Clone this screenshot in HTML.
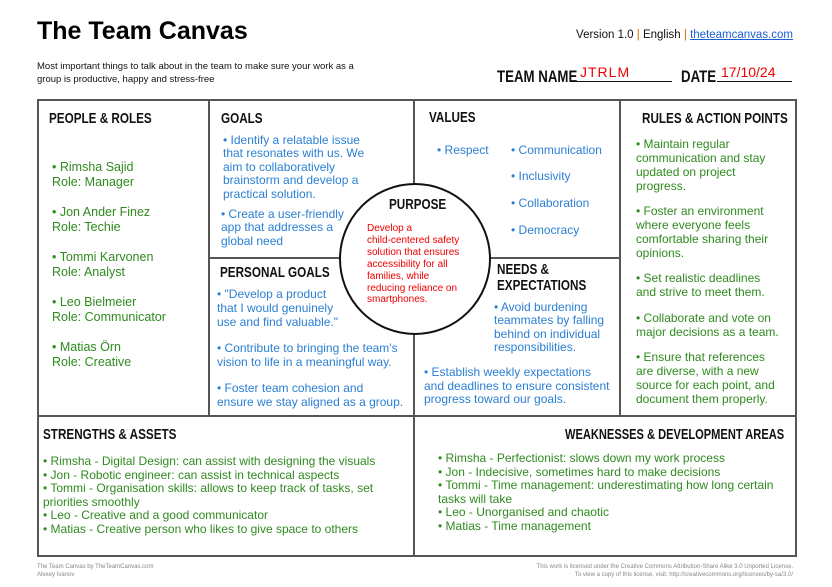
<!DOCTYPE html>
<html><head><meta charset="utf-8"><style>
*{margin:0;padding:0;box-sizing:border-box}
body{width:832px;height:587px;background:#fff;position:relative;overflow:hidden;font-family:"Liberation Sans",sans-serif}
.a{position:absolute;white-space:nowrap}
.h{position:absolute;white-space:nowrap;font-family:"Liberation Sans",sans-serif;font-weight:bold;font-size:15px;color:#111;transform:scaleX(0.78);transform-origin:left}
.g{color:#2f8a1f;font-size:12px;line-height:14px}
.b{color:#2a7fd4;font-size:12px;line-height:14px}
.ln{position:absolute;background:#555}
</style></head><body>
<div class="a" style="left:37px;top:17px;font-size:25px;font-weight:bold;color:#000">The Team Canvas</div>
<div class="a" style="right:39px;top:29px;font-size:11.5px;color:#111">Version 1.0 <span style="color:#c60">|</span> English <span style="color:#c60">|</span> <span style="color:#1a5fd0;text-decoration:underline">theteamcanvas.com</span></div>
<div class="a" style="left:37px;top:61px;font-size:9.5px;line-height:12.5px;color:#111">Most important things to talk about in the team to make sure your work as a<br>group is productive, happy and stress-free</div>
<div class="h" style="left:497px;top:67px;font-size:17px">TEAM NAME</div>
<div class="a" style="left:575px;top:64px;width:97px;border-bottom:1.5px solid #111;height:18px;color:#e00;font-size:14px;padding-left:5px;letter-spacing:1px">JTRLM</div>
<div class="h" style="left:681px;top:67px;font-size:17px">DATE</div>
<div class="a" style="left:717px;top:64px;width:75px;border-bottom:1.5px solid #111;height:18px;color:#e00;font-size:14px;padding-left:4px">17/10/24</div>

<div class="a" style="left:37px;top:99px;width:760px;height:458px;border:2px solid #555"></div>
<div class="ln" style="left:208px;top:99px;width:2px;height:317px"></div>
<div class="ln" style="left:413px;top:99px;width:2px;height:458px"></div>
<div class="ln" style="left:619px;top:99px;width:2px;height:317px"></div>
<div class="ln" style="left:37px;top:415px;width:760px;height:2px"></div>
<div class="ln" style="left:208px;top:257px;width:412px;height:2px"></div>
<div class="a" style="left:339px;top:183px;width:152px;height:152px;border:2px solid #111;border-radius:50%;background:#fff"></div>

<div class="h" style="left:49px;top:110px">PEOPLE &amp; ROLES</div>
<div class="a g" style="left:52px;top:160px;line-height:15px;font-size:12.5px">• Rimsha Sajid<br>Role: Manager<br><br>• Jon Ander Finez<br>Role: Techie<br><br>• Tommi Karvonen<br>Role: Analyst<br><br>• Leo Bielmeier<br>Role: Communicator<br><br>• Matias Örn<br>Role: Creative</div>

<div class="h" style="left:221px;top:110px">GOALS</div>
<div class="a b" style="left:223px;top:134px;line-height:13.4px">• Identify a relatable issue<br>that resonates with us. We<br>aim to collaboratively<br>brainstorm and develop a<br>practical solution.</div>
<div class="a b" style="left:221px;top:208px;line-height:13.4px">• Create a user-friendly<br>app that addresses a<br>global need</div>

<div class="h" style="left:429px;top:109px">VALUES</div>
<div class="a b" style="left:437px;top:143px">• Respect</div>
<div class="a b" style="left:511px;top:143px">• Communication</div>
<div class="a b" style="left:511px;top:169px">• Inclusivity</div>
<div class="a b" style="left:511px;top:196px">• Collaboration</div>
<div class="a b" style="left:511px;top:223px">• Democracy</div>

<div class="h" style="left:389px;top:196px">PURPOSE</div>
<div class="a" style="left:367px;top:223px;color:#e00;font-size:10px;line-height:11.9px">Develop a<br>child-centered safety<br>solution that ensures<br>accessibility for all<br>families, while<br>reducing reliance on<br>smartphones.</div>

<div class="h" style="left:642px;top:110px">RULES &amp; ACTION POINTS</div>
<div class="a g" style="left:636px;top:137px">• Maintain regular<br>communication and stay<br>updated on project<br>progress.</div>
<div class="a g" style="left:636px;top:204px">• Foster an environment<br>where everyone feels<br>comfortable sharing their<br>opinions.</div>
<div class="a g" style="left:636px;top:271px">• Set realistic deadlines<br>and strive to meet them.</div>
<div class="a g" style="left:636px;top:311px">• Collaborate and vote on<br>major decisions as a team.</div>
<div class="a g" style="left:636px;top:350px">• Ensure that references<br>are diverse, with a new<br>source for each point, and<br>document them properly.</div>

<div class="h" style="left:220px;top:264px">PERSONAL GOALS</div>
<div class="a b" style="left:217px;top:287px">• "Develop a product<br>that I would genuinely<br>use and find valuable."</div>
<div class="a b" style="left:217px;top:341px">• Contribute to bringing the team's<br>vision to life in a meaningful way.</div>
<div class="a b" style="left:217px;top:381px">• Foster team cohesion and<br>ensure we stay aligned as a group.</div>

<div class="h" style="left:497px;top:262px;line-height:16px">NEEDS &amp;<br>EXPECTATIONS</div>
<div class="a b" style="left:494px;top:301px;line-height:13.4px">• Avoid burdening<br>teammates by falling<br>behind on individual<br>responsibilities.</div>
<div class="a b" style="left:424px;top:366px;line-height:13.5px">• Establish weekly expectations<br>and deadlines to ensure consistent<br>progress toward our goals.</div>

<div class="h" style="left:43px;top:426px">STRENGTHS &amp; ASSETS</div>
<div class="a g" style="left:43px;top:455px;line-height:13.5px">• Rimsha - Digital Design: can assist with designing the visuals<br>• Jon - Robotic engineer: can assist in technical aspects<br>• Tommi - Organisation skills: allows to keep track of tasks, set<br>priorities smoothly<br>• Leo - Creative and a good communicator<br>• Matias - Creative person who likes to give space to others</div>

<div class="h" style="left:565px;top:426px;transform:scaleX(0.74)">WEAKNESSES &amp; DEVELOPMENT AREAS</div>
<div class="a g" style="left:438px;top:452px;line-height:13.5px">• Rimsha - Perfectionist: slows down my work process<br>• Jon - Indecisive, sometimes hard to make decisions<br>• Tommi - Time management: underestimating how long certain<br>tasks will take<br>• Leo - Unorganised and chaotic<br>• Matias - Time management</div>

<div class="a" style="left:37px;top:563px;font-size:6px;line-height:8px;color:#888">The Team Canvas by TheTeamCanvas.com<br>Alexey Ivanov</div>
<div class="a" style="right:39px;top:563px;font-size:6px;line-height:8px;color:#888;text-align:right">This work is licensed under the Creative Commons Attribution-Share Alike 3.0 Unported License.<br>To view a copy of this license, visit: http://creativecommons.org/licenses/by-sa/3.0/</div>
</body></html>
